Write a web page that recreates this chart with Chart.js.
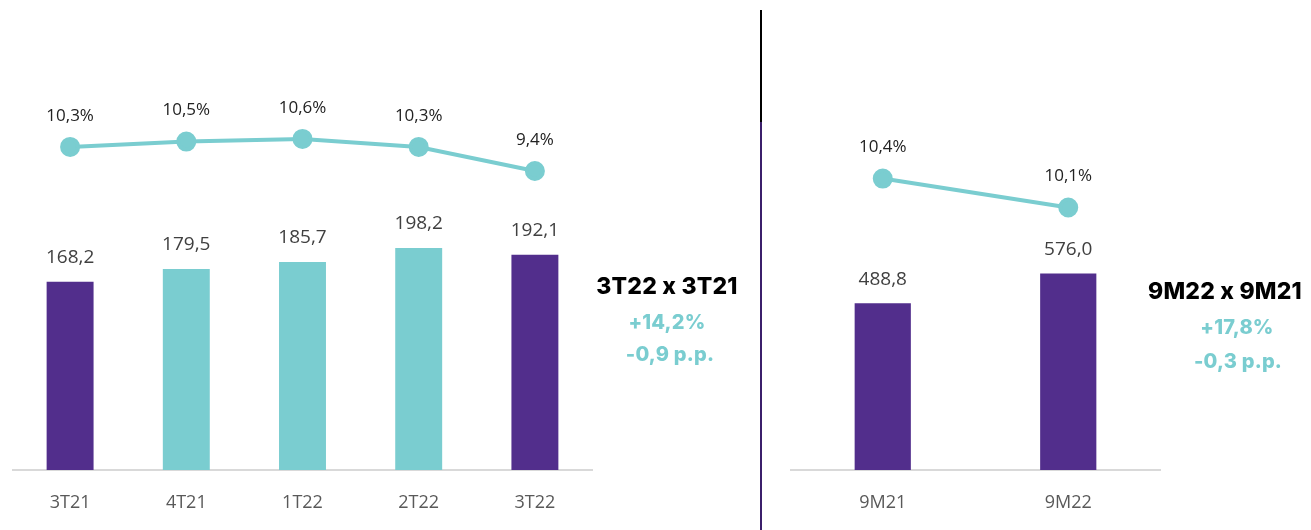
<!DOCTYPE html>
<html>
<head>
<meta charset="utf-8">
<script src="https://cdn.jsdelivr.net/npm/chart.js@4"></script>
<style>
    body { margin: 0; background: #fff; width: 1311px; height: 530px; position: relative; overflow: hidden; }
    .box { position: absolute; }
    .note { position: absolute; font-family: Inter, "DejaVu Sans", sans-serif; font-weight: 800; text-align: center; white-space: nowrap; }
    .head { color: #000; font-size: 23px; letter-spacing: 0.2px; }
    .var { color: #7ACDD0; font-size: 20px; letter-spacing: 0.2px; }
</style>
</head>
<body>
<div class="box" style="left:12px; top:0; width:581px; height:530px;"><canvas id="quarterChart"></canvas></div>
<div class="box" style="left:790px; top:0; width:371px; height:530px;"><canvas id="ytdChart"></canvas></div>

<div class="box" style="left:760px; top:10px; width:2px; height:112px; background:#000;"></div>
<div class="box" style="left:760px; top:122px; width:2px; height:408px; background:#3B1F6B;"></div>

<div class="note head" style="left:567px; top:272px; width:200px;">3T22 x 3T21</div>
<div class="note var" style="left:567px; top:310px; width:200px;">+14,2%</div>
<div class="note var" style="left:570px; top:342px; width:200px;">-0,9 p.p.</div>

<div class="note head" style="left:1125px; top:277px; width:200px;">9M22 x 9M21</div>
<div class="note var" style="left:1137px; top:315px; width:200px;">+17,8%</div>
<div class="note var" style="left:1138px; top:349px; width:200px;">-0,3 p.p.</div>

<script>
// Quarterly data
const quarterLabels = ['3T21', '4T21', '1T22', '2T22', '3T22'];
const quarterValues = [168.2, 179.5, 185.7, 198.2, 192.1];
const quarterMargin = [10.3, 10.5, 10.6, 10.3, 9.4];

// Year to date data
const ytdLabels = ['9M21', '9M22'];
const ytdValues = [488.8, 576.0];
const ytdMargin = [10.4, 10.1];

const purple = '#522E8C';
const teal = '#7ACDD0';

const fmt = (v, d) => v.toFixed(d).replace('.', ',');

// Simple inline data label plugin
const valueLabels = {
    id: 'valueLabels',
    afterDatasetsDraw(chart) {
        const ctx = chart.ctx;
        ctx.save();
        ctx.textAlign = 'center';
        ctx.textBaseline = 'middle';
        chart.data.datasets.forEach((ds, i) => {
            const meta = chart.getDatasetMeta(i);
            meta.data.forEach((el, j) => {
                const v = ds.data[j];
                if (ds.type === 'line') {
                    ctx.font = '17px "Open Sans", sans-serif';
                    ctx.fillStyle = '#222';
                    ctx.fillText(fmt(v, 1) + '%', el.x, el.y - 31);
                } else {
                    ctx.font = '19px "Open Sans", sans-serif';
                    ctx.fillStyle = '#404040';
                    ctx.fillText(fmt(v, 1), el.x, el.y - 24);
                }
            });
        });
        ctx.restore();
    }
};

function makeChart(id, labels, values, margin, barColors, barPct, yMax, y1Min, y1Max) {
    return new Chart(document.getElementById(id), {
        data: {
            labels: labels,
            datasets: [{
                type: 'line',
                data: margin,
                yAxisID: 'y1',
                borderColor: teal,
                backgroundColor: teal,
                borderWidth: 4,
                pointRadius: 8,
                pointHoverRadius: 8,
                clip: false,
                tension: 0
            }, {
                type: 'bar',
                data: values,
                yAxisID: 'y',
                backgroundColor: barColors,
                barPercentage: barPct,
                categoryPercentage: 1
            }]
        },
        options: {
            responsive: true,
            maintainAspectRatio: false,
            animation: false,
            layout: { autoPadding: false, padding: { top: 30, left: 0, right: 0, bottom: 0 } },
            plugins: { legend: { display: false }, tooltip: { enabled: false } },
            scales: {
                x: {
                    grid: { display: false },
                    border: { color: '#D9D9D9', width: 2 },
                    ticks: { color: '#595959', padding: 14, font: { family: '"Open Sans", sans-serif', size: 18 } },
                    afterFit: s => { s.height = 60; }
                },
                y: { display: false, min: 0, max: yMax },
                y1: { display: false, min: y1Min, max: y1Max }
            }
        },
        plugins: [valueLabels]
    });
}

makeChart('quarterChart', quarterLabels, quarterValues, quarterMargin,
    [purple, teal, teal, teal, purple], 0.404, 392.9, -1.80, 14.68);
makeChart('ytdChart', ytdLabels, ytdValues, ytdMargin,
    [purple, purple], 0.303, 1289, 7.38, 11.94);
</script>
</body>
</html>
